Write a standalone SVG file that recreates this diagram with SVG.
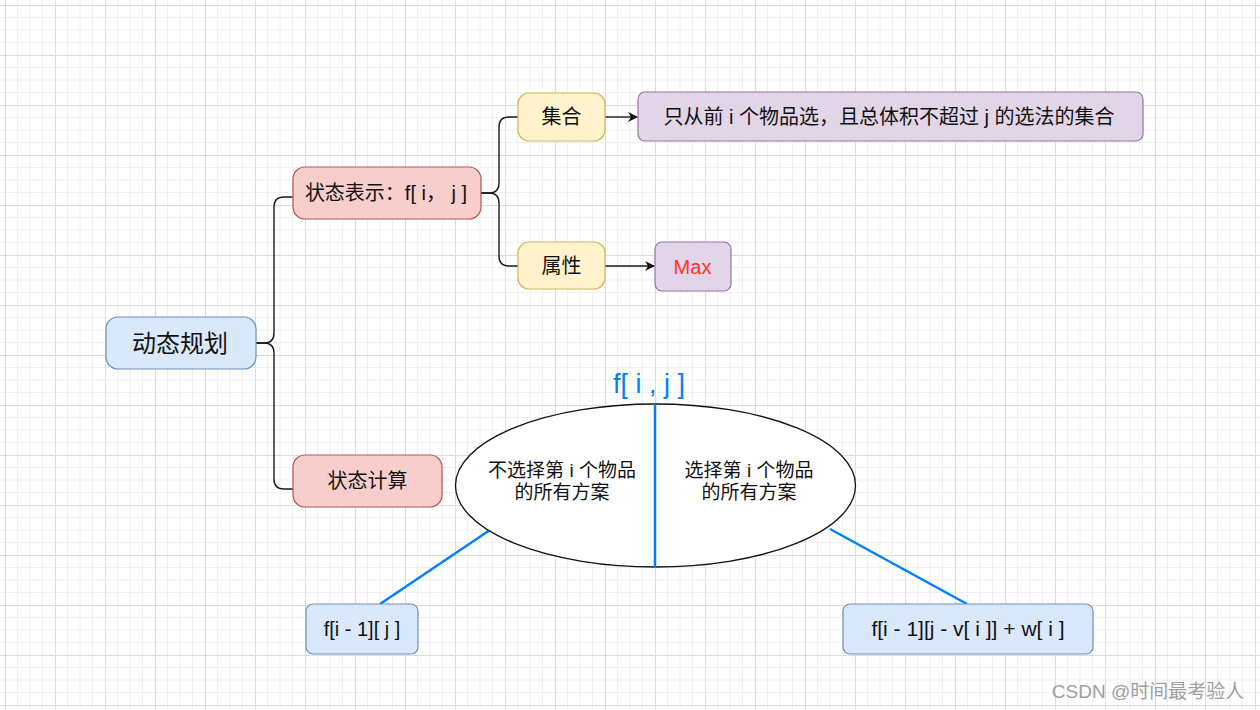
<svg xmlns="http://www.w3.org/2000/svg" width="1260" height="710" viewBox="0 0 1260 710">
<defs>
<pattern id="grid" x="5" y="5" width="50" height="50" patternUnits="userSpaceOnUse">
<path d="M12.5 0V50M25 0V50M37.5 0V50M0 12.5H50M0 25H50M0 37.5H50" stroke="#f0f0f0" stroke-width="1" fill="none"/>
<path d="M0.5 0V50M0 0.5H50" stroke="#dcdcdc" stroke-width="1" fill="none"/>
</pattern>
<marker id="arr" viewBox="0 0 10 10" refX="9" refY="5" markerWidth="10" markerHeight="10" markerUnits="userSpaceOnUse" orient="auto">
<path d="M0 0L10 5L0 10L3 5Z" fill="#111"/>
</marker>
<style>
text{font-family:"Liberation Sans","Noto Sans CJK SC",sans-serif;fill:#111;text-anchor:middle}
.t18{font-size:20px}
.t19{font-size:19px}
.t21{font-size:21px}
.blue{fill:#dae8fc;stroke:#6c8ebf;stroke-width:1.2}
.red{fill:#f8cecc;stroke:#b85450;stroke-width:1.2}
.yel{fill:#fff2cc;stroke:#d6b656;stroke-width:1.2}
.pur{fill:#e1d5e7;stroke:#9673a6;stroke-width:1.2}
.edge{fill:none;stroke:#1a1a1a;stroke-width:1.4}
.bl{stroke:#007fff;stroke-width:2.5;fill:none}
</style>
</defs>
<rect width="1260" height="710" fill="#fff"/>
<rect width="1260" height="710" fill="url(#grid)"/>

<g id="connectors">
<path class="edge" d="M256 343H264Q274 343 274 333V207Q274 197 284 197H293"/>
<path class="edge" d="M256 343H264Q274 343 274 353V479Q274 489 284 489H293"/>
<path class="edge" d="M481 193H489Q499 193 499 183V127Q499 117 509 117H518"/>
<path class="edge" d="M481 193H489Q499 193 499 203V256Q499 266 509 266H518"/>
<path class="edge" d="M605 117H637" marker-end="url(#arr)"/>
<path class="edge" d="M605 266H654" marker-end="url(#arr)"/>
<line class="bl" x1="490" y1="530" x2="380" y2="604"/>
<line class="bl" x1="830" y1="529" x2="967" y2="604"/>
</g>

<g id="root">
<rect class="blue" x="106" y="317" width="150" height="52" rx="12"/>
<text x="180" y="352" style="font-size:24px">动态规划</text>
</g>
<g id="state-repr">
<rect class="red" x="293" y="167" width="188" height="52" rx="12"/>
<text class="t18" x="386" y="200">状态表示：f[ i， j ]</text>
</g>
<g id="set">
<rect class="yel" x="518" y="93" width="87" height="48" rx="11"/>
<text class="t18" x="561.5" y="124">集合</text>
</g>
<g id="set-desc">
<rect class="pur" x="638" y="92" width="505" height="49" rx="7"/>
<text class="t18" x="889" y="124">只从前 i 个物品选，且总体积不超过 j 的选法的集合</text>
</g>
<g id="attr">
<rect class="yel" x="518" y="242" width="87" height="47" rx="11"/>
<text class="t18" x="561.5" y="273">属性</text>
</g>
<g id="max">
<rect class="pur" x="655" y="242" width="76" height="49" rx="7"/>
<text class="t18" x="692.5" y="274" style="fill:#ff3333">Max</text>
</g>
<g id="state-calc">
<rect class="red" x="293" y="455" width="149" height="52" rx="12"/>
<text class="t18" x="367.5" y="488">状态计算</text>
</g>
<g id="ellipse">
<ellipse cx="655.5" cy="485.5" rx="200" ry="81.5" fill="#fff" stroke="#111" stroke-width="1.3"/>
<line class="bl" x1="655" y1="404" x2="655" y2="568"/>
<text x="649" y="393" style="font-size:27px;fill:#007fff">f[ i , j ]</text>
<text class="t19" x="562" y="477">不选择第 i 个物品</text>
<text class="t19" x="562" y="499">的所有方案</text>
<text class="t19" x="749" y="477">选择第 i 个物品</text>
<text class="t19" x="749" y="499">的所有方案</text>
</g>
<g id="not-choose">
<rect class="blue" x="306" y="604" width="112" height="50" rx="7"/>
<text class="t18" x="362" y="636">f[i - 1][ j ]</text>
</g>
<g id="choose">
<rect class="blue" x="843" y="604" width="250" height="50" rx="7"/>
<text class="t21" x="968" y="636">f[i - 1][j - v[ i ]] + w[ i ]</text>
</g>
<text x="1148" y="698" style="font-size:19px;fill:#a0a0a0">CSDN @时间最考验人</text>
</svg>
